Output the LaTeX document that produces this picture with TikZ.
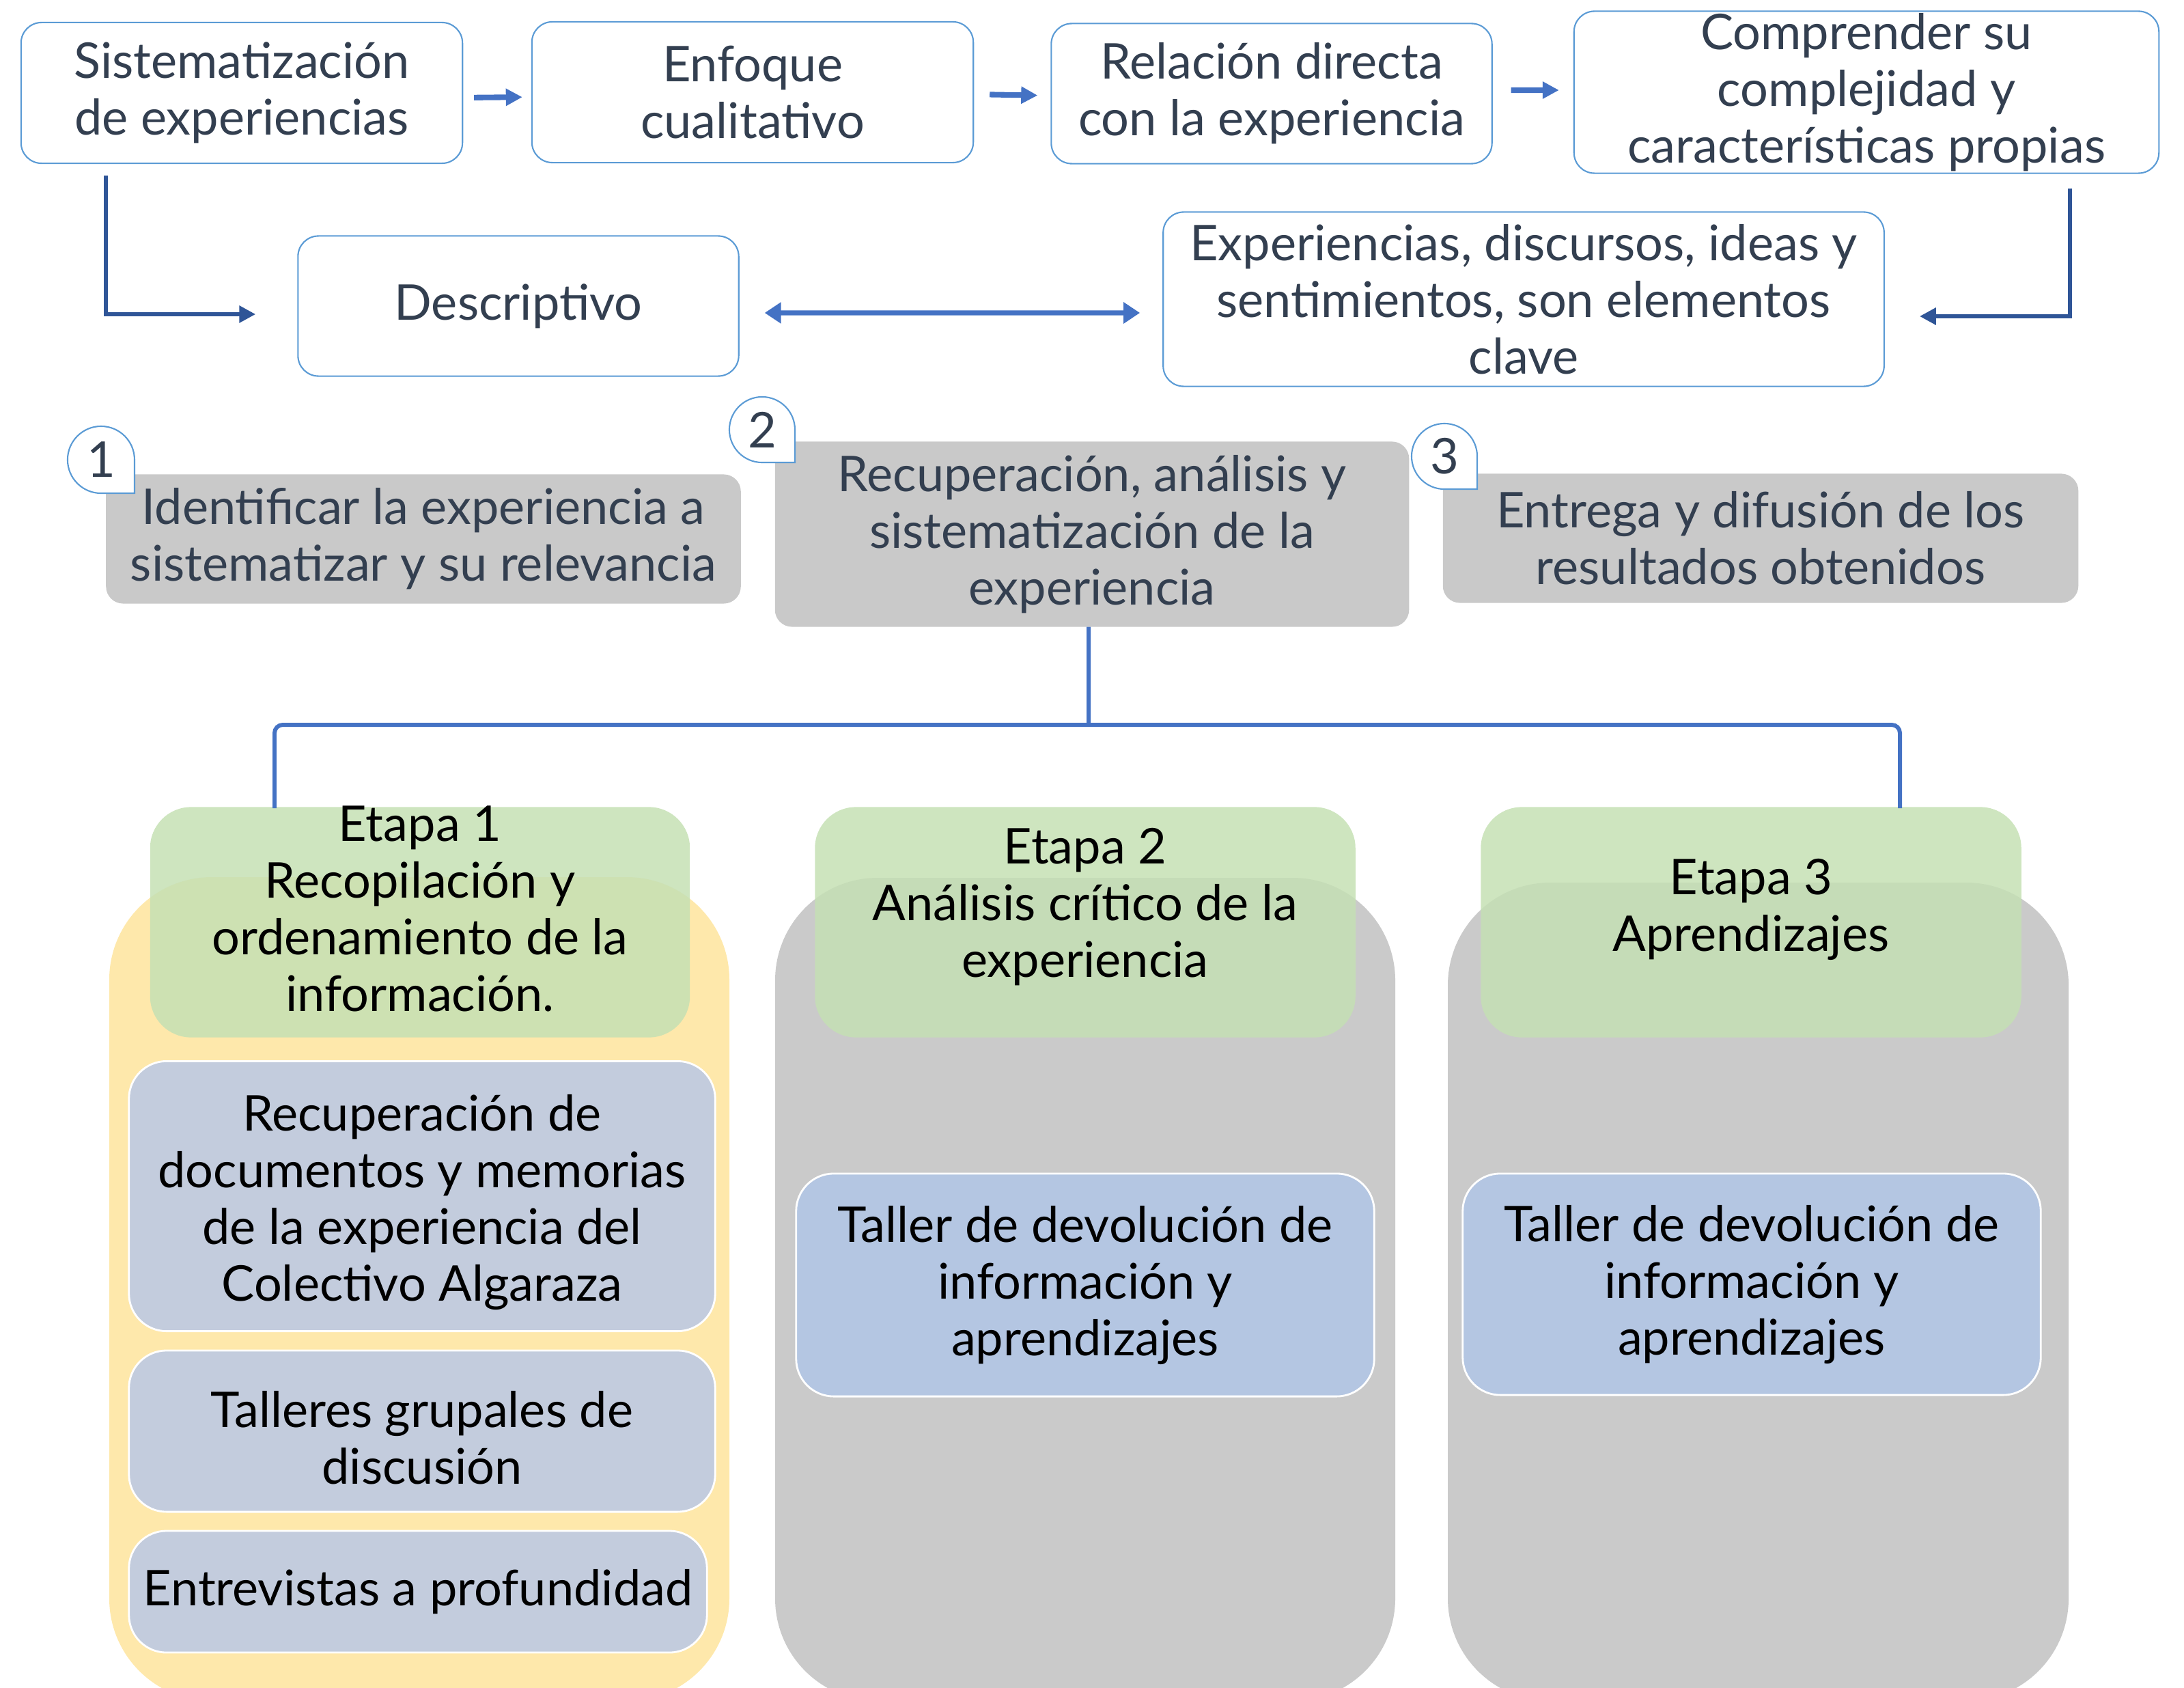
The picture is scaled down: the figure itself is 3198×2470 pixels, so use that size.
\documentclass[tikz,border=0pt]{standalone}
\usepackage{fontspec}
\setmainfont{Lato}
\usetikzlibrary{arrows.meta}
\definecolor{boxline}{HTML}{5B9BD5}
\definecolor{txtdark}{HTML}{333F50}
\definecolor{arrowblue}{HTML}{4472C4}
\definecolor{darkblue}{HTML}{2F5597}
\definecolor{stepgray}{HTML}{C9C9C9}
\definecolor{colyellow}{HTML}{FEE8AB}
\definecolor{colgray}{HTML}{CACACA}
\definecolor{headgreen}{HTML}{C5E0B4}
\definecolor{itemblue}{HTML}{C3CCDD}
\definecolor{tallerblue}{HTML}{B4C6E2}

\begin{document}
\begin{tikzpicture}[x=0.01cm,y=-0.01cm,
		every node/.style={font=\fontsize{20.5}{23.6}\selectfont, align=center, inner sep=0pt, outer sep=0pt},
		topbox/.style={draw=boxline, line width=0.6pt, fill=white, rounded corners=0.3cm, text=txtdark},
		stepbox/.style={fill=stepgray, rounded corners=0.25cm, text=txtdark},
		badge/.style={draw=boxline, line width=0.6pt, fill=white},
		flowarrow/.style={arrowblue, line width=2.3pt, -{Triangle[length=0.24cm,width=0.24cm]}},
		bothways/.style={arrowblue, line width=2pt, {Triangle[length=0.24cm,width=0.3cm]}-{Triangle[length=0.24cm,width=0.3cm]}},
		elbow/.style={darkblue, line width=1.8pt, -{Triangle[length=0.24cm,width=0.24cm]}},
		tree/.style={arrowblue, line width=1.7pt, rounded corners=0.12cm},
		column/.style={rounded corners=1.5cm},
		etapa/.style={fill=headgreen, fill opacity=0.85, rounded corners=0.6cm},
		item/.style={draw=white, line width=0.8pt, rounded corners=0.55cm}]
				\useasboundingbox (0,0) rectangle (3198,2470);
				\clip (0,0) rectangle (3198,2470);
				
				\node[topbox, minimum width=6.46cm, minimum height=2.06cm] (sis) at (354,136) {Sistematización\\de experiencias};
				\node[topbox, minimum width=6.46cm, minimum height=2.06cm] (enf) at (1102,135) {Enfoque\\cualitativo};
				\node[topbox, minimum width=6.45cm, minimum height=2.05cm] (rel) at (1862,137) {Relación directa\\con la experiencia};
				\node[topbox, minimum width=8.56cm, minimum height=2.37cm] (comp) at (2733,135) {Comprender su\\complejidad y\\características propias};
				\node[topbox, minimum width=6.45cm, minimum height=2.05cm] (des) at (759,448) {Descriptivo};
				\node[topbox, minimum width=10.55cm, minimum height=2.55cm] (exp) at (2231,438) {Experiencias, discursos, ideas y\\sentimientos, son elementos\\clave};
				
				\draw[flowarrow, shorten <=0.17cm, shorten >=0.14cm] ([yshift=-0.07cm]sis.east) -- ([yshift=-0.07cm]enf.west);
				\draw[flowarrow, shorten <=0.24cm, shorten >=0.2cm] ([yshift=-0.03cm]enf.east) -- ([yshift=-0.03cm]rel.west);
				\draw[flowarrow, shorten <=0.28cm, shorten >=0.22cm] ([yshift=0.05cm]rel.east) -- ([yshift=0.03cm]comp.west);
				\draw[elbow] ([xshift=1.24cm,yshift=-0.18cm]sis.south west) |- ([xshift=-0.62cm,yshift=-0.12cm]des.west);
				\draw[elbow] ([xshift=-1.3cm,yshift=-0.22cm]comp.south east) |- ([xshift=0.52cm,yshift=-0.25cm]exp.east);
				\draw[bothways, shorten <=0.38cm, shorten >=0.34cm] ([yshift=-0.1cm]des.east) -- ([yshift=-0.2cm]exp.west);
				
				\node[stepbox, minimum width=9.29cm, minimum height=1.89cm] (g1) at (620,789) {Identificar la experiencia a\\sistematizar y su relevancia};
				\node[stepbox, minimum width=9.28cm, minimum height=2.71cm] (g2) at (1599,782) {Recuperación, análisis y\\sistematización de la\\experiencia};
				\node[stepbox, minimum width=9.3cm, minimum height=1.89cm] (g3) at (2578,788) {Entrega y difusión de los\\resultados obtenidos};
				
				\coordinate (b1) at (148,673);
				\coordinate (b2) at (1116,629);
				\coordinate (b3) at (2115,668);
				\draw[badge] (b1) ++(49,0) arc[start angle=0, end angle=270, radius=0.49cm] -- ++(49,0) -- cycle;
				\draw[badge] (b2) ++(48,0) arc[start angle=0, end angle=270, radius=0.48cm] -- ++(48,0) -- cycle;
				\draw[badge] (b3) ++(48,0) arc[start angle=0, end angle=270, radius=0.48cm] -- ++(48,0) -- cycle;
				\node[text=txtdark] (n1) at (b1) {1};
				\node[text=txtdark] (n2) at (b2) {2};
				\node[text=txtdark] (n3) at (b3) {3};
				
				\fill[colyellow, column] (160,1284) rectangle (1068,2490);
				\fill[colgray, column] (1135,1285) rectangle (2043,2490);
				\fill[colgray, column] (2120,1292) rectangle (3029,2490);
				
				\node[etapa, minimum width=7.9cm, minimum height=3.37cm] (e1) at (615,1350) {};
				\node[etapa, minimum width=7.91cm, minimum height=3.37cm] (e2) at (1589,1350) {};
				\node[etapa, minimum width=7.91cm, minimum height=3.37cm] (e3) at (2564,1350) {};
				\node (e1txt) at (615,1330) {Etapa 1\\Recopilación y\\ordenamiento de la\\información.};
				\node (e2txt) at (1589,1328) {Etapa 2\\Análisis crítico de la\\experiencia};
				\node (e3txt) at (2564,1331) {Etapa 3\\Aprendizajes};
				
				\coordinate (hub) at (1594,1061);
				\coordinate (d1) at (402,1183);
				\coordinate (d3) at (2782,1183);
				\draw[tree] ([xshift=-0.05cm]g2.south) -- (hub);
				\draw[tree] (d1) |- (hub) -| (d3);
				
				\node[item, fill=itemblue, minimum width=8.58cm, minimum height=3.95cm] (i1) at (618,1751) {\rule{0pt}{0.72cm}Recuperación de\\documentos y memorias\\de la experiencia del\\Colectivo Algaraza};
				\node[item, fill=itemblue, minimum width=8.58cm, minimum height=2.36cm] (i2) at (618,2095) {\rule{0pt}{0.72cm}Talleres grupales de\\discusión};
				\node[item, fill=itemblue, minimum width=8.46cm, minimum height=1.78cm] (i3) at (612,2330) {Entrevistas a profundidad};
				\node[item, fill=tallerblue, minimum width=8.46cm, minimum height=3.26cm] (t2) at (1589,1881) {Taller de devolución de\\información y\\aprendizajes};
				\node[item, fill=tallerblue, minimum width=8.46cm, minimum height=3.24cm] (t3) at (2565,1880) {Taller de devolución de\\información y\\aprendizajes};
			\end{tikzpicture}
\end{document}
